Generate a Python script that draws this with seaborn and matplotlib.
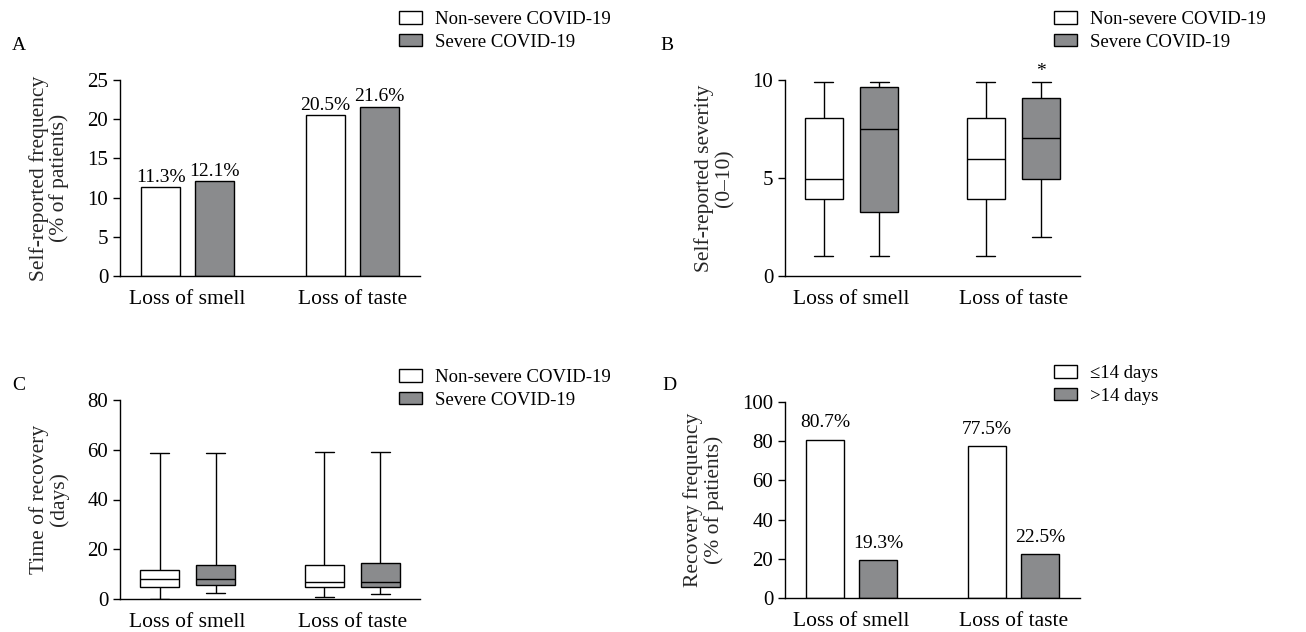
import numpy as np
import pandas as pd
import matplotlib
matplotlib.use("Agg")
import matplotlib.pyplot as plt
import seaborn as sns
from matplotlib.patches import Patch

# categories / groups
symptoms = ["Loss of smell", "Loss of taste"]
groups = ["Non-severe COVID-19", "Severe COVID-19"]
recovery_groups = ["\u226414 days", ">14 days"]

# A: self-reported frequency (% of patients)
freq_nonsevere = [11.3, 20.5]
freq_severe = [12.1, 21.6]

# B: self-reported severity, five-number summaries (min, q1, median, q3, max)
sev_smell_nonsevere = [1.0, 3.95, 4.95, 8.05, 9.9]
sev_smell_severe = [1.0, 3.25, 7.5, 9.65, 9.9]
sev_taste_nonsevere = [1.0, 3.95, 5.95, 8.05, 9.9]
sev_taste_severe = [2.0, 4.95, 7.05, 9.1, 9.9]

# C: time of recovery (days), five-number summaries
rec_smell_nonsevere = [0.0, 4.8, 8.0, 11.8, 58.8]
rec_smell_severe = [2.3, 5.6, 8.0, 13.5, 58.8]
rec_taste_nonsevere = [0.8, 4.8, 6.8, 13.8, 59.2]
rec_taste_severe = [2.0, 4.8, 6.8, 14.3, 59.2]

# D: recovery frequency (% of patients)
recov_le14 = [80.7, 77.5]
recov_gt14 = [19.3, 22.5]

GREY = "#8a8b8d"
FS_TICK = 15.5
FS_YTICK = 15
FS_LABEL = 15.5
FS_LEG = 13.5
FS_BAR = 14


def bar_frame(a, b, labels):
    return pd.DataFrame({
        "symptom": symptoms * 2,
        "group": [labels[0]] * 2 + [labels[1]] * 2,
        "value": list(a) + list(b),
    })


def box_frame(smell_a, smell_b, taste_a, taste_b):
    rows = []
    for sym, grp, vals in [
        (symptoms[0], groups[0], smell_a),
        (symptoms[0], groups[1], smell_b),
        (symptoms[1], groups[0], taste_a),
        (symptoms[1], groups[1], taste_b),
    ]:
        for v in vals:
            rows.append((sym, grp, v))
    return pd.DataFrame(rows, columns=["symptom", "group", "value"])


def style_axis(ax, ylim, yticks, ylabel):
    ax.set_ylim(*ylim)
    ax.set_yticks(yticks)
    ax.set_xlim(-0.41, 1.41)
    ax.set_xlabel("")
    ax.set_ylabel(ylabel, fontsize=FS_LABEL, linespacing=1.05, labelpad=13)
    sns.despine(ax=ax)
    for s in ["left", "bottom"]:
        ax.spines[s].set_linewidth(1)
    ax.tick_params(axis="x", length=0, labelsize=FS_TICK, pad=10)
    ax.tick_params(axis="y", length=5, width=1, direction="out", labelsize=FS_YTICK, pad=3.5)


def draw_bars(ax, df, hue_order, fmt_pad):
    sns.barplot(data=df, x="symptom", y="value", hue="group", hue_order=hue_order,
                palette=["white", GREY], saturation=1, edgecolor="black", linewidth=1,
                width=0.655, gap=0.27, errorbar=None, legend=False, ax=ax)
    for cont, vals in zip(ax.containers, [df[df.group == h].value.tolist() for h in hue_order]):
        ax.bar_label(cont, labels=[f"{v}%" for v in vals], padding=fmt_pad, fontsize=FS_BAR)


def draw_boxes(ax, df):
    sns.boxplot(data=df, x="symptom", y="value", hue="group", hue_order=groups,
                palette=["white", GREY], saturation=1, linecolor="black", linewidth=1,
                whis=(0, 100), width=0.68, gap=0.31, showfliers=False, legend=False, ax=ax)


def add_legend(fig, labels, x, y):
    handles = [Patch(facecolor="white", edgecolor="black", linewidth=1),
               Patch(facecolor=GREY, edgecolor="black", linewidth=1)]
    fig.legend(handles, labels, loc="upper left", bbox_to_anchor=(x, y),
               frameon=False, fontsize=FS_LEG, handlelength=1.2, handleheight=0.65,
               handletextpad=0.7, labelspacing=0.3, borderpad=0, borderaxespad=0)


sns.set_theme(style="ticks")
plt.rcParams["font.family"] = ["Liberation Serif", "DejaVu Serif"]
plt.rcParams["axes.edgecolor"] = "black"
plt.rcParams["xtick.color"] = "black"
plt.rcParams["ytick.color"] = "black"
plt.rcParams["text.color"] = "black"

W, H = 1306, 632
fig = plt.figure(figsize=(W / 100, H / 100), dpi=100)


def px_axes(left, top, right, bottom):
    return fig.add_axes([left / W, 1 - bottom / H, (right - left) / W, (bottom - top) / H])


axA = px_axes(120, 80, 420, 276)
axB = px_axes(785, 80, 1080, 276)
axC = px_axes(120, 400, 420, 599)
axD = px_axes(785, 402, 1080, 598)

# A
draw_bars(axA, bar_frame(freq_nonsevere, freq_severe, groups), groups, 1)
style_axis(axA, (0, 25), [0, 5, 10, 15, 20, 25], "Self-reported frequency\n(% of patients)")

# B
draw_boxes(axB, box_frame(sev_smell_nonsevere, sev_smell_severe, sev_taste_nonsevere, sev_taste_severe))
style_axis(axB, (0, 10), [0, 5, 10], "Self-reported severity\n(0\u201310)")
axB.text(1 + 0.68 / 4, 10.0, "*", ha="center", va="bottom", fontsize=FS_BAR)

# C
draw_boxes(axC, box_frame(rec_smell_nonsevere, rec_smell_severe, rec_taste_nonsevere, rec_taste_severe))
style_axis(axC, (0, 80), [0, 20, 40, 60, 80], "Time of recovery\n(days)")

# D
draw_bars(axD, bar_frame(recov_le14, recov_gt14, recovery_groups), recovery_groups, 6)
style_axis(axD, (0, 100), [0, 20, 40, 60, 80, 100], "Recovery frequency\n(% of patients)")

add_legend(fig, groups, 399 / W, 1 - 11 / H)
add_legend(fig, groups, 1054 / W, 1 - 11 / H)
add_legend(fig, groups, 399 / W, 1 - 369 / H)
add_legend(fig, recovery_groups, 1054 / W, 1 - 365 / H)

for letter, x, y in [("A", 12, 45), ("B", 660, 45), ("C", 12, 385), ("D", 662, 385)]:
    fig.text(x / W, 1 - y / H, letter, ha="left", va="center", fontsize=14)

fig.savefig("out.png", dpi=100, facecolor="white")
